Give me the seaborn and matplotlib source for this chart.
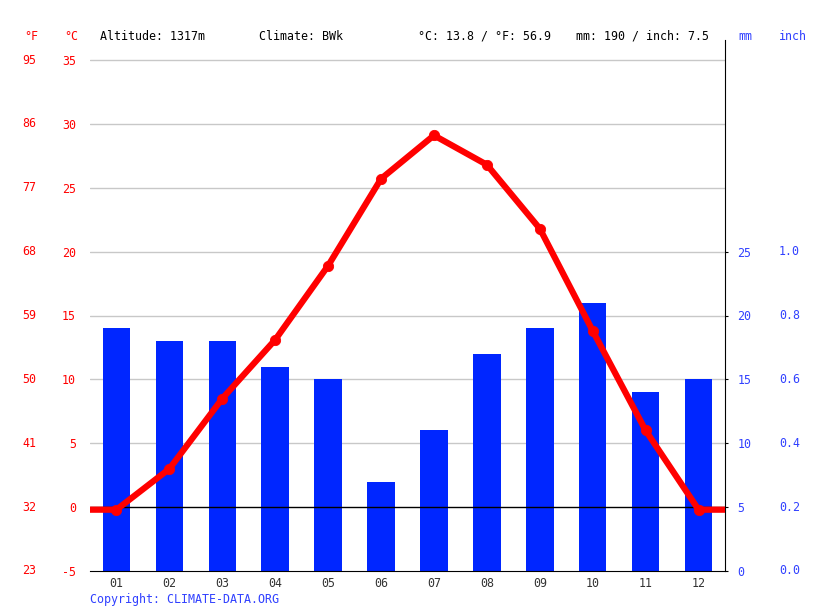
import matplotlib
matplotlib.use("Agg")
import matplotlib.pyplot as plt
import matplotlib.transforms as mtransforms
import seaborn as sns
import pandas as pd

# --------------------------
# DATA
# --------------------------
months = ["01", "02", "03", "04", "05", "06", "07", "08", "09", "10", "11", "12"]
temp_c = [-0.2, 3.0, 8.5, 13.1, 18.9, 25.7, 29.1, 26.8, 21.8, 13.8, 6.0, -0.2]
precip_mm = [19, 18, 18, 16, 15, 7, 11, 17, 19, 21, 14, 15]

c_ticks = [35, 30, 25, 20, 15, 10, 5, 0, -5]
f_labels = ["95", "86", "77", "68", "59", "50", "41", "32", "23"]
mm_ticks = [0, 5, 10, 15, 20, 25]
inch_labels = ["0.0", "0.2", "0.4", "0.6", "0.8", "1.0"]

header = ["Altitude: 1317m", "Climate: BWk", "°C: 13.8 / °F: 56.9", "mm: 190 / inch: 7.5"]

RED = "#ff0000"
BLUE = "#0026ff"
LBLUE = "#3040ff"
FS = 8.4

sns.set_style("white")
plt.rcParams["font.family"] = ["DejaVu Sans Mono", "DejaVu Sans"]
plt.rcParams["font.size"] = FS

df = pd.DataFrame({"month": months, "temp": temp_c, "precip": precip_mm})

fig = plt.figure(figsize=(8.15, 6.11), dpi=100)
ax = fig.add_axes([90 / 815, 1 - 571 / 611, 635 / 815, 531 / 611])
ax2 = ax.twinx()

ymin, ytop = -5, -5 + 531 / (511 / 40)
ax.set_ylim(ymin, ytop)
ax2.set_ylim(0, ytop + 5)

# --- gridlines (behind bars, on the precip axis: mm = °C + 5) ---
for t in c_ticks[:-1]:
    if t != 0:
        ax2.axhline(t + 5, color="#c8c8c8", lw=1, zorder=0)

# --- bars (precipitation, right axis) ---
sns.barplot(data=df, x="month", y="precip", color=BLUE, width=0.52,
            saturation=1, linewidth=0, ax=ax2, zorder=2)
ax2.set_xlim(-0.5, 11.5)
ax2.axhline(5, color="black", lw=1, zorder=3)

# --- temperature line ---
ax.set_zorder(ax2.get_zorder() + 1)
ax.patch.set_visible(False)
xs = [-0.5] + list(range(len(months))) + [11.5]
ys = [temp_c[0]] + temp_c + [temp_c[-1]]
ax.plot(xs, ys, color=RED, lw=4.5, solid_capstyle="butt", zorder=4)
sns.scatterplot(x=list(range(len(months))), y=temp_c, color=RED, s=55,
                edgecolor=RED, ax=ax, zorder=5)
ax.set_xlim(-0.5, 11.5)

# --- spines ---
for a in (ax, ax2):
    for s in ("left", "top", "right", "bottom"):
        a.spines[s].set_visible(False)
ax2.spines["right"].set_visible(True)
ax2.spines["right"].set_color("black")
ax2.spines["bottom"].set_visible(True)
ax2.spines["bottom"].set_color("black")

# --- x axis ---
ax2.set_xticks([i - 0.5 for i in range(13)])
ax2.set_xticklabels([])
ax2.tick_params(axis="x", length=5, color="black", direction="out")
ax.set_xticks(range(len(months)))
ax.set_xticklabels(months, color="#333333")
ax.tick_params(axis="x", length=0, pad=4)
ax2.set_xlabel("")
ax.set_xlabel("")

# --- left axis (°C and °F) ---
ax.set_yticks(c_ticks)
ax.set_yticklabels([str(t) for t in c_ticks], color=RED)
ax.tick_params(axis="y", length=0, pad=10)
ax.set_ylabel("")
trans_l = mtransforms.blended_transform_factory(fig.transFigure, ax.transData)
for t, lab in zip(c_ticks, f_labels):
    ax.text(36 / 815, t, lab, transform=trans_l, ha="right", va="center",
            color=RED, fontsize=FS)

# --- right axis (mm and inch) ---
ax2.set_yticks(mm_ticks)
ax2.set_yticklabels([str(t) for t in mm_ticks], color=LBLUE)
ax2.tick_params(axis="y", length=2, pad=7, color="black")
ax2.set_ylabel("")
trans_r = mtransforms.blended_transform_factory(fig.transFigure, ax2.transData)
for t, lab in zip(mm_ticks, inch_labels):
    ax2.text(779 / 815, t, lab, transform=trans_r, ha="left", va="center",
             color=LBLUE, fontsize=FS)

# --- header ---
hy = 1 - 36 / 611
fig.text(24 / 815, hy, "°F", color=RED, va="center", fontsize=FS)
fig.text(64 / 815, hy, "°C", color=RED, va="center", fontsize=FS)
for xpos, txt in zip([100, 259, 418, 576], header):
    fig.text(xpos / 815, hy, txt, color="black", va="center", fontsize=FS)
fig.text(738 / 815, hy, "mm", color=LBLUE, va="center", fontsize=FS)
fig.text(779 / 815, hy, "inch", color=LBLUE, va="center", fontsize=FS)

fig.text(90 / 815, 1 - 599 / 611, "Copyright: CLIMATE-DATA.ORG", color=LBLUE,
         va="center", fontsize=FS)

fig.savefig("out.png", dpi=100)
